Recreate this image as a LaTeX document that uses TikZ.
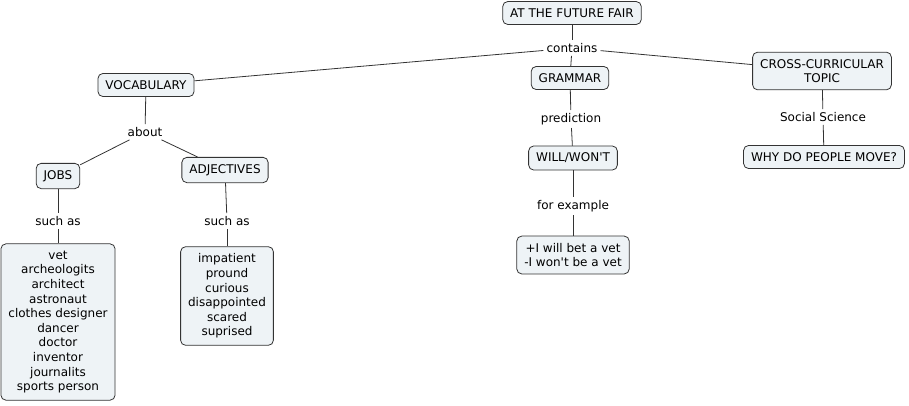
\documentclass[tikz,border=0pt]{standalone}
\usepackage{fontspec}
\setmainfont{DejaVu Sans}
\definecolor{boxfill}{HTML}{EEF3F6}
\definecolor{boxline}{HTML}{333333}
\tikzset{
    concept/.style={draw=boxline, fill=boxfill, rounded corners=5pt, line width=0.8pt,
        inner xsep=7.5pt, inner ysep=7pt, align=center, font=\fontsize{12}{14.6}\selectfont},
    linkword/.style={inner sep=3pt, font=\fontsize{12}{14.6}\selectfont},
    link/.style={draw=boxline, line width=0.8pt}
}
\begin{document}
\begin{tikzpicture}[x=1pt, y=-1pt]
            \useasboundingbox (0, 0) rectangle (909, 405);

            \node[concept] (fair) at (572, 13) {AT THE FUTURE FAIR};
            \node[linkword] (contains) at (572, 48) {contains};

            \node[concept] (vocab) at (146, 85) {VOCABULARY};
            \node[concept] (grammar) at (570, 78) {GRAMMAR};
            \node[concept] (cross) at (822, 71) {CROSS-CURRICULAR\\TOPIC};

            % vocabulary branch
            \node[linkword] (about) at (145, 132) {about};
            \node[concept] (jobs) at (58, 176) {JOBS};
            \node[concept] (adj) at (225, 170) {ADJECTIVES};
            \node[linkword] (suchjobs) at (58, 221) {such as};
            \node[linkword] (suchadj) at (227, 221) {such as};
            \node[concept] (joblist) at (58, 322) {vet\\archeologits\\architect\\astronaut\\clothes designer\\dancer\\doctor\\inventor\\journalits\\sports person};
            \node[concept] (adjlist) at (227, 296) {impatient\\pround\\curious\\disappointed\\scared\\suprised};

            % grammar branch
            \node[linkword] (prediction) at (571, 119) {prediction};
            \node[concept] (will) at (573, 158) {WILL/WON\textquotesingle T};
            \node[linkword] (example) at (573, 206) {for example};
            \node[concept] (sentences) at (573, 255) {+I will bet a vet\\-I won\textquotesingle t be a vet};

            % cross-curricular branch
            \node[linkword] (social) at (823, 117) {Social Science};
            \node[concept] (move) at (824, 157) {WHY DO PEOPLE MOVE?};

            \draw[link] (fair) -- (contains);
            \draw[link] (contains) -- (vocab);
            \draw[link] (contains) -- (grammar);
            \draw[link] (contains) -- (cross);

            \draw[link] (vocab) -- (about);
            \draw[link] (about) -- (jobs);
            \draw[link] (about) -- (adj);
            \draw[link] (jobs) -- (suchjobs);
            \draw[link] (suchjobs) -- (joblist);
            \draw[link] (adj) -- (suchadj);
            \draw[link] (suchadj) -- (adjlist);

            \draw[link] (grammar) -- (prediction);
            \draw[link] (prediction) -- (will);
            \draw[link] (will) -- (example);
            \draw[link] (example) -- (sentences);

            \draw[link] (cross) -- (social);
            \draw[link] (social) -- (move);
        \end{tikzpicture}
\end{document}
